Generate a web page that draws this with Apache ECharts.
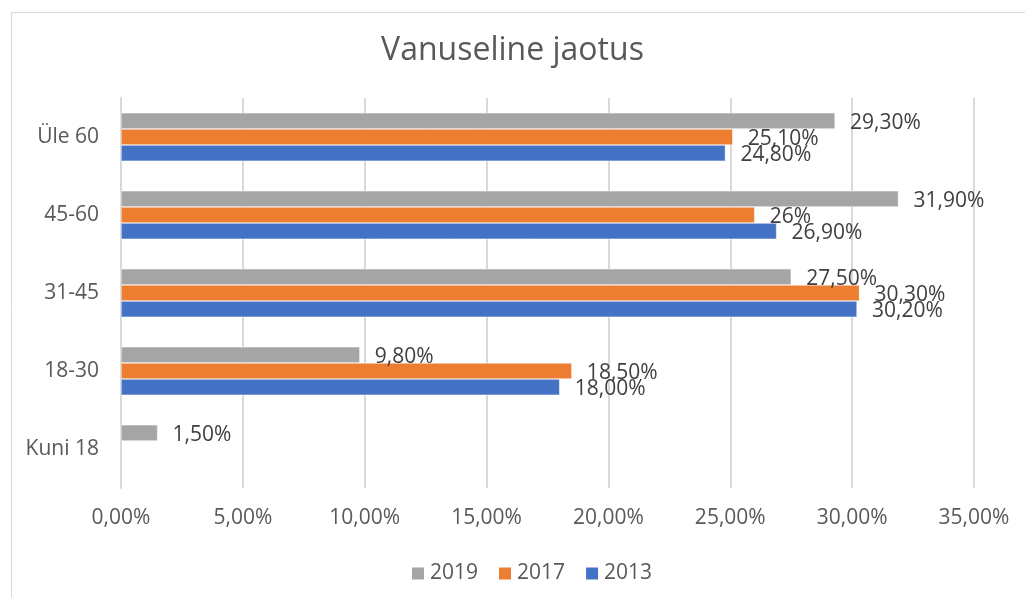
<!DOCTYPE html>
<html>
<head>
<meta charset="utf-8">
<script src="https://cdn.jsdelivr.net/npm/echarts@6/dist/echarts.min.js"></script>
<style>
  html, body { margin: 0; padding: 0; background: #fff; }
  #chart { width: 1025px; height: 598px; }
</style>
</head>
<body>
<div id="chart"></div>
<script>
// Vanuseline jaotus – horisontaalsed tulbad
const FONT = '"Open Sans", "Noto Sans", sans-serif';
const AXIS_GREY = '#595959', LABEL_GREY = '#404040', GRID_LINE = '#d9d9d9';

const categories = ['Kuni 18', '18-30', '31-45', '45-60', 'Üle 60'];
const years = ['2019', '2017', '2013'];
const colors = ['#a5a5a5', '#ed7d31', '#4472c4'];

const v2019 = [1.5, 9.8, 27.5, 31.9, 29.3];
const v2017 = [null, 18.5, 30.3, 26, 25.1];
const v2013 = [null, 18.0, 30.2, 26.9, 24.8];

const lab2019 = ['1,50%', '9,80%', '27,50%', '31,90%', '29,30%'];
const lab2017 = ['', '18,50%', '30,30%', '26%', '25,10%'];
const lab2013 = ['', '18,00%', '30,20%', '26,90%', '24,80%'];

const xTicks = [0, 5, 10, 15, 20, 25, 30, 35];

const values = [v2019, v2017, v2013];
const labels = [lab2019, lab2017, lab2013];

const chart = echarts.init(document.getElementById('chart'), null, { renderer: 'canvas' });

chart.setOption({
  animation: false,
  textStyle: { fontFamily: FONT },
  graphic: [{
    type: 'rect', left: 9, top: 10, silent: true,
    shape: { width: 1100, height: 700 },
    style: { fill: 'none', stroke: '#d9d9d9', lineWidth: 1 },
  }],
  title: {
    text: 'Vanuseline jaotus', left: 'center', top: 30,
    textStyle: { fontFamily: FONT, fontSize: 32, fontWeight: 'normal', color: AXIS_GREY },
  },
  legend: {
    data: years, bottom: 9, left: 405, itemWidth: 14, itemHeight: 14, itemGap: 19,
    icon: 'rect',
    textStyle: { fontFamily: FONT, fontSize: 21, color: AXIS_GREY },
  },
  grid: { left: 121, right: 51, top: 98, bottom: 110 },
  xAxis: {
    type: 'value', min: xTicks[0], max: xTicks[xTicks.length - 1], interval: 5,
    axisLine: { show: false }, axisTick: { show: false },
    splitLine: { lineStyle: { color: GRID_LINE, width: 2 } },
    axisLabel: {
      color: AXIS_GREY, fontFamily: FONT, fontSize: 21, margin: 20,
      formatter: (v) => v.toFixed(2).replace('.', ',') + '%',
    },
  },
  yAxis: {
    type: 'category', data: categories,
    axisLine: { lineStyle: { color: GRID_LINE, width: 2 } }, axisTick: { show: false },
    axisLabel: { color: AXIS_GREY, fontFamily: FONT, fontSize: 21, margin: 22 },
  },
  series: years.map((y, i) => ({
    name: y, type: 'bar', data: values[i],
    barGap: '0%', barCategoryGap: '38%',
    itemStyle: { color: colors[i], borderColor: '#fff', borderWidth: 0.5 },
    label: {
      show: true, position: 'right', distance: 15, offset: [0, 2],
      color: LABEL_GREY, fontFamily: FONT, fontSize: 21,
      formatter: (p) => labels[i][p.dataIndex],
    },
  })),
});
</script>
</body>
</html>
